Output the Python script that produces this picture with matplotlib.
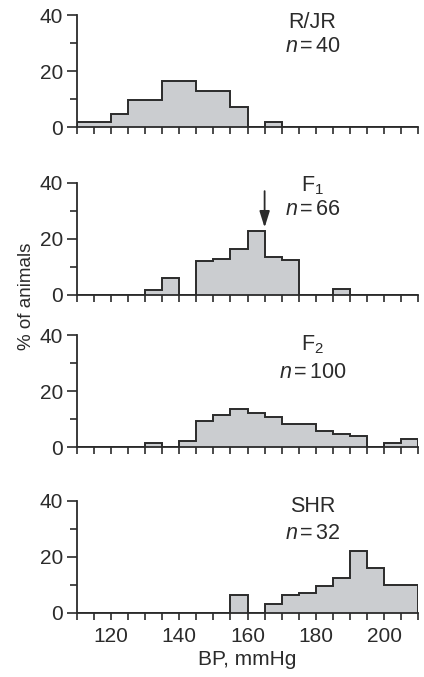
"""Blood pressure distributions, four strains."""

import matplotlib
matplotlib.use('Agg')
import matplotlib.pyplot as plt
import numpy as np


plt.rcParams['font.family'] = ['Liberation Sans', 'DejaVu Sans']
plt.rcParams['mathtext.fontset'] = 'custom'
plt.rcParams['mathtext.rm'] = 'Liberation Sans'
plt.rcParams['mathtext.it'] = 'Liberation Sans:italic'

# bin edges, 5 mmHg wide
bin_edges = np.arange(110, 215, 5)

strains = ['R/JR', r'F$_1$', r'F$_2$', 'SHR']
counts = [40, 66, 100, 32]

# % of animals per bin (110-115, 115-120, ..., 205-210)
rjr = [2.0, 2.0, 4.6, 9.7, 9.7, 16.4, 16.4, 12.8, 12.8, 7.4,
       0, 2.0, 0, 0, 0, 0, 0, 0, 0, 0]
f1 = [0, 0, 0, 0, 1.7, 6.0, 0, 12.0, 12.7, 16.2,
      22.6, 13.6, 12.4, 0, 0, 1.9, 0, 0, 0, 0]
f2 = [0, 0, 0, 0, 1.4, 0, 2.1, 9.4, 11.3, 13.7,
      12.3, 10.7, 8.2, 8.2, 5.8, 4.8, 4.0, 0, 1.4, 2.9]
shr = [0, 0, 0, 0, 0, 0, 0, 0, 0, 6.2,
       0, 3.2, 6.3, 6.9, 9.4, 12.5, 21.9, 15.8, 9.9, 9.9]
series = [rjr, f1, f2, shr]

# label placement (name y, n y) in data units
name_y = [37.6, 39.0, 36.4, 37.9]
n_y = [28.7, 30.3, 26.6, 28.4]

FILL = '#cbcdd0'
INK = '#2b2b2b'
FS = 15

fig = plt.figure(figsize=(4.24, 6.77), dpi=100)
bottoms = [0.812, 0.5647, 0.3397, 0.095]
axes = []
for i, vals in enumerate(series):
    ax = fig.add_axes([0.181, bottoms[i], 0.8056, 0.1654])
    axes.append(ax)

    ax.stairs(vals, bin_edges, fill=True, facecolor=FILL,
              edgecolor=INK, linewidth=1.4)

    ax.set_xlim(110, 210)
    ax.set_ylim(0, 40)
    ax.spines['top'].set_visible(False)
    ax.spines['right'].set_visible(False)
    for s in ['left', 'bottom']:
        ax.spines[s].set_color(INK)
        ax.spines[s].set_linewidth(1.3)

    ax.set_yticks([0, 20, 40])
    ax.set_yticks([10, 30], minor=True)
    ax.set_xticks(np.arange(120, 201, 20))
    ax.set_xticks(np.arange(110, 211, 5), minor=True)
    ax.tick_params(which='both', direction='out', width=1.2,
                   color=INK, labelsize=FS, labelcolor=INK)
    ax.tick_params(axis='y', which='major', length=7, pad=3)
    ax.tick_params(axis='y', which='minor', length=5)
    ax.tick_params(axis='x', which='both', length=5, pad=5)
    if i < 3:
        ax.tick_params(axis='x', labelbottom=False)

    ax.text(179, name_y[i], strains[i], ha='center', va='center',
            fontsize=15.5, color=INK)
    ax.text(179, n_y[i], r'$n\,$=$\,$' + str(counts[i]), ha='center',
            va='center', fontsize=15.5, color=INK)

# arrow over the F1 mode
axes[1].annotate('', xy=(165, 24.0), xytext=(165, 37.0),
                 arrowprops=dict(arrowstyle='-|>,head_length=0.7,head_width=0.22',
                                 color=INK, lw=1.3, mutation_scale=14,
                                 shrinkA=0, shrinkB=0))

axes[3].set_xlabel('BP, mmHg', fontsize=FS, color=INK, labelpad=3)
fig.text(0.062, 0.562, '% of animals', rotation=90, ha='center',
         va='center', fontsize=13.5, color=INK)

fig.savefig('out.png', dpi=100)
